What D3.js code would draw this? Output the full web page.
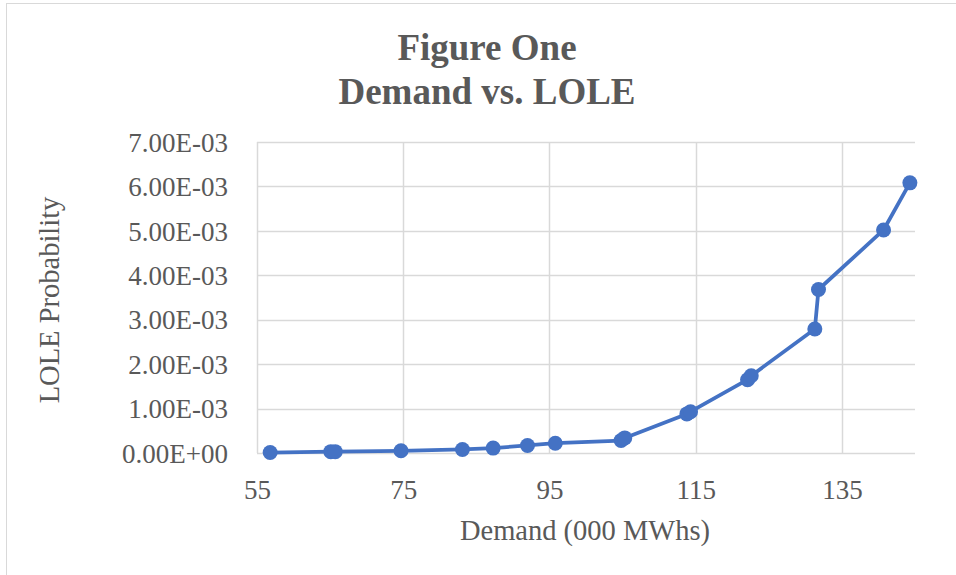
<!DOCTYPE html>
<html>
<head>
<meta charset="utf-8">
<script src="https://cdn.jsdelivr.net/npm/d3@7"></script>
<style>
  html, body { margin: 0; padding: 0; background: #fff; }
  svg { display: block; }
</style>
</head>
<body>
<svg id="chart" width="956" height="575"></svg>
<script>
const titleLines = ["Figure One", "Demand vs. LOLE"];
const xTitle = "Demand (000 MWhs)";
const yTitle = "LOLE Probability";
const demand = [56.8, 65.1, 65.7, 74.7, 83.1, 87.3, 92.0, 95.8, 104.8, 105.3, 113.8, 114.3, 122.1, 122.6, 131.3, 131.8, 140.7, 144.3];
const lole = [0.00001, 0.00003, 0.00003, 0.00005, 0.00008, 0.00011, 0.00017, 0.00022, 0.00028, 0.00034, 0.00088, 0.00093, 0.00165, 0.00174, 0.00279, 0.00368, 0.00502, 0.00608];
const xTicks = [55, 75, 95, 115, 135];
const yTicks = [0, 0.001, 0.002, 0.003, 0.004, 0.005, 0.006, 0.007];
const xDomain = [55, 145];
const yDomain = [0, 0.007];

const svg = d3.select("#chart");
const font = "'Liberation Serif', 'Times New Roman', serif";
const textColor = "#595959";

// outer chart border
svg.append("rect").attr("x", 6.5).attr("y", 3.5).attr("width", 980).attr("height", 600)
  .attr("fill", "#fff").attr("stroke", "#d9d9d9").attr("stroke-width", 1);

const x = d3.scaleLinear().domain(xDomain).range([257, 915]);
const y = d3.scaleLinear().domain(yDomain).range([453, 142]);

function sci(v) {
  if (v === 0) return "0.00E+00";
  const s = d3.format(".2e")(v);
  const [m, e] = s.split("e");
  const n = +e;
  return m + "E" + (n < 0 ? "-" : "+") + String(Math.abs(n)).padStart(2, "0");
}

// horizontal gridlines
svg.append("g").selectAll("line").data(yTicks).join("line")
  .attr("x1", x(xDomain[0])).attr("x2", x(xDomain[1]))
  .attr("y1", d => Math.round(y(d)) + 0.5).attr("y2", d => Math.round(y(d)) + 0.5)
  .attr("stroke", "#d9d9d9").attr("stroke-width", 1.5);

// vertical gridlines
svg.append("g").selectAll("line").data(xTicks).join("line")
  .attr("x1", d => Math.round(x(d)) + 0.5).attr("x2", d => Math.round(x(d)) + 0.5)
  .attr("y1", y(yDomain[0])).attr("y2", y(yDomain[1]))
  .attr("stroke", "#d9d9d9").attr("stroke-width", 1.5);

// axes (labels only)
const xAxis = svg.append("g").attr("transform", `translate(0,${y(0)})`)
  .call(d3.axisBottom(x).tickValues(xTicks).tickSize(0).tickPadding(0).tickFormat(d3.format("d")));
xAxis.select(".domain").remove();
xAxis.selectAll("text").attr("dy", null).attr("y", 46)
  .attr("font-family", font).attr("font-size", 27).attr("fill", textColor);

const yAxis = svg.append("g").attr("transform", `translate(228,0)`)
  .call(d3.axisLeft(y).tickValues(yTicks).tickSize(0).tickPadding(0).tickFormat(sci));
yAxis.select(".domain").remove();
yAxis.selectAll("text").attr("x", 0).attr("dy", "0.34em")
  .attr("font-family", font).attr("font-size", 27).attr("fill", textColor);

// titles
svg.append("text").attr("x", 487).attr("text-anchor", "middle")
  .attr("font-family", font).attr("font-weight", "bold").attr("font-size", 37).attr("fill", textColor)
  .selectAll("tspan").data(titleLines).join("tspan")
  .attr("x", 487).attr("y", (d, i) => 60 + i * 44).text(d => d);

svg.append("text").attr("x", 585).attr("y", 540).attr("text-anchor", "middle")
  .attr("font-family", font).attr("font-size", 28.5).attr("fill", textColor).text(xTitle);

svg.append("text").attr("transform", "translate(59,300) rotate(-90)").attr("text-anchor", "middle")
  .attr("font-family", font).attr("font-size", 28.5).attr("fill", textColor).text(yTitle);

// series
const pts = demand.map((d, i) => [d, lole[i]]);
const line = d3.line().x(d => x(d[0])).y(d => y(d[1]));
svg.append("path").datum(pts).attr("d", line)
  .attr("fill", "none").attr("stroke", "#4472C4").attr("stroke-width", 3.75)
  .attr("stroke-linejoin", "round").attr("stroke-linecap", "round");
svg.append("g").selectAll("circle").data(pts).join("circle")
  .attr("cx", d => x(d[0])).attr("cy", d => y(d[1])).attr("r", 7.5)
  .attr("fill", "#4472C4");
</script>
</body>
</html>
